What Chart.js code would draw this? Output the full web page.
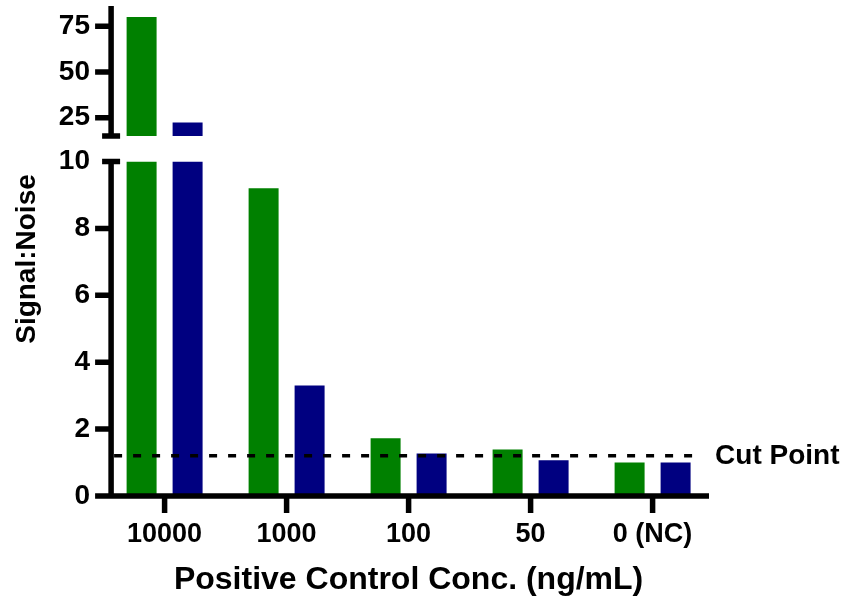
<!DOCTYPE html>
<html>
<head>
<meta charset="utf-8">
<script src="https://cdn.jsdelivr.net/npm/chart.js@4.4.1/dist/chart.umd.min.js"></script>
<style>
  html, body { margin: 0; padding: 0; background: #fff; }
  #wrap { position: relative; width: 842px; height: 599px; }
  #wrap canvas { position: absolute; left: 0; top: 0; }
</style>
</head>
<body>
<div id="wrap">
  <canvas id="low" width="842" height="599"></canvas>
  <canvas id="high" width="842" height="599"></canvas>
</div>
<script>
/* ── Data ── */
const categories  = ['10000', '1000', '100', '50', '0 (NC)'];
const greenValues = [80, 9.2, 1.73, 1.39, 1.0];
const navyValues  = [22.4, 3.3, 1.27, 1.07, 1.0];
const cutPoint    = 1.2;
const lowTicks    = [0, 2, 4, 6, 8, 10];
const highTicks   = [25, 50, 75];
const lowRange    = [0, 10];   // lower segment of the broken axis
const highRange   = [15, 86];  // upper segment

const GREEN = '#008000', NAVY = '#000080';
const FONT  = 'Liberation Sans, Arial, Helvetica, sans-serif';

Chart.defaults.font.family = FONT;
Chart.defaults.font.weight = 'bold';
Chart.defaults.color = '#000';

/* ── Helpers ── */
const LEFT_W = 103.6, RIGHT_PAD = 128.4;

function yScale(range, ticks) {
  return {
    min: range[0], max: range[1],
    grid: { display: false, drawTicks: false }, border: { display: false },
    ticks: { font: { size: 28, weight: 'bold' }, padding: 13.6 },
    afterBuildTicks: s => { s.ticks = ticks.map(v => ({ value: v })); },
    afterFit: s => { s.width = LEFT_W; s.paddingTop = 0; s.paddingBottom = 0; }
  };
}

function barSets(fn) {
  return [
    { label: 'A', data: greenValues.map(fn), backgroundColor: GREEN, borderWidth: 0 },
    { label: 'B', data: navyValues.map(fn),  backgroundColor: NAVY,  borderWidth: 0 }
  ];
}

const BAR_OPTS = { categoryPercentage: 0.754, barPercentage: 0.652 };

/* ── Axes drawn Prism style ── */
function axesPlugin(isTop) {
  return {
    id: 'prismAxes',
    afterDatasetsDraw(chart) {
      const { ctx, chartArea: a, scales: { x, y } } = chart;
      const ax = a.left + 7.5;
      ctx.save();
      ctx.strokeStyle = '#000'; ctx.lineWidth = 5.5; ctx.lineCap = 'butt';
      ctx.beginPath();
      ctx.moveTo(ax, a.top); ctx.lineTo(ax, a.bottom);
      const capY = isTop ? a.bottom : a.top;
      ctx.moveTo(ax - 9, capY); ctx.lineTo(ax + 9, capY);
      const marks = isTop ? highTicks : lowTicks.filter(v => v > lowRange[0] && v < lowRange[1]);
      marks.forEach(v => { const py = y.getPixelForValue(v); ctx.moveTo(ax - 16, py); ctx.lineTo(ax, py); });
      if (!isTop) {
        const by = y.getPixelForValue(0);
        ctx.moveTo(ax - 16, by); ctx.lineTo(a.right - 4.6, by);
        categories.forEach((c, i) => { const px = x.getPixelForValue(i); ctx.moveTo(px, by); ctx.lineTo(px, by + 17); });
      }
      ctx.stroke();

      if (!isTop) {
        // cut point
        const cy = y.getPixelForValue(cutPoint);
        ctx.beginPath(); ctx.setLineDash([8, 11]); ctx.lineWidth = 3.5;
        ctx.moveTo(ax + 3, cy); ctx.lineTo(a.right - 12, cy); ctx.stroke();
        ctx.setLineDash([]);
        ctx.fillStyle = '#000'; ctx.font = 'bold 28px ' + FONT;
        ctx.textAlign = 'left'; ctx.textBaseline = 'middle';
        ctx.fillText('Cut Point', a.right + 1.5, cy);
        // y title
        ctx.translate(27, 259); ctx.rotate(-Math.PI / 2);
        ctx.textAlign = 'center';
        ctx.fillText('Signal:Noise', 0, 0);
      }
      ctx.restore();
    }
  };
}

/* ── Lower segment ── */
new Chart(document.getElementById('low'), {
  type: 'bar',
  data: { labels: categories, datasets: barSets(v => Math.min(v, lowRange[1])) },
  options: {
    responsive: false, animation: false, ...BAR_OPTS,
    layout: { padding: { top: 161.5, bottom: 0, left: 0, right: RIGHT_PAD } },
    plugins: { legend: { display: false }, tooltip: { enabled: false } },
    scales: {
      x: {
        grid: { display: false, drawTicks: false }, border: { display: false },
        ticks: { font: { size: 27, weight: 'bold' }, padding: 22, maxRotation: 0 },
        title: { display: true, text: 'Positive Control Conc. (ng/mL)', font: { size: 32, weight: 'bold' }, padding: { top: 0, bottom: 0 } },
        afterFit: s => { s.height = 103; s.paddingLeft = 0; s.paddingRight = 0; }
      },
      y: yScale(lowRange, lowTicks)
    }
  },
  plugins: [axesPlugin(false)]
});

/* ── Upper segment ── */
new Chart(document.getElementById('high'), {
  type: 'bar',
  data: { labels: categories, datasets: barSets(v => v > highRange[0] ? [highRange[0], v] : null) },
  options: {
    responsive: false, animation: false, ...BAR_OPTS,
    layout: { padding: { top: 6, bottom: 463, left: 0, right: RIGHT_PAD } },
    plugins: { legend: { display: false }, tooltip: { enabled: false } },
    scales: {
      x: { display: false },
      y: yScale(highRange, highTicks)
    }
  },
  plugins: [axesPlugin(true)]
});
</script>
</body>
</html>
